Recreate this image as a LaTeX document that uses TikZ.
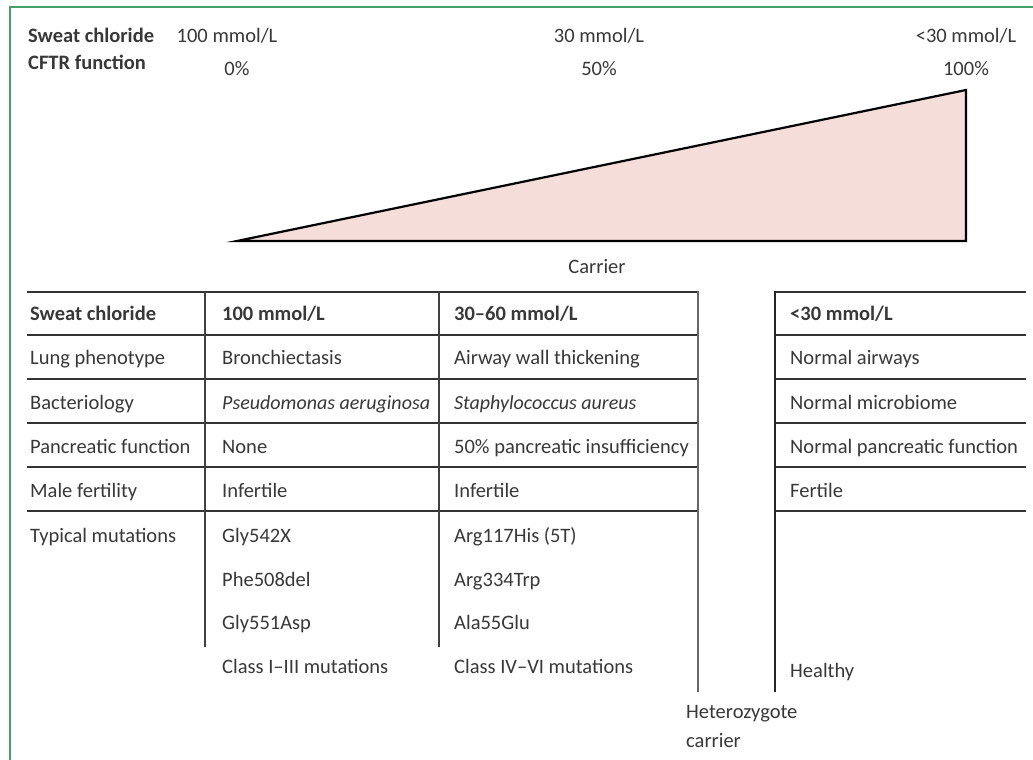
\documentclass[tikz,border=0pt]{standalone}
\usepackage{fontspec}
\setmainfont{Carlito}
\begin{document}
\begin{tikzpicture}[x=1pt,y=-1pt,
  txt/.style={anchor=base west,inner sep=0pt,text=black!78,font=\fontsize{20.5}{24}\selectfont},
  ctxt/.style={anchor=base,inner sep=0pt,text=black!78,font=\fontsize{20.5}{24}\selectfont},
  hd/.style={txt,font=\fontsize{20.5}{24}\selectfont\bfseries},
  it/.style={txt,font=\fontsize{20}{24}\selectfont\itshape},
  rule/.style={draw=black!80,line width=2.5pt},
  vrule/.style={draw=black!75,line width=2.5pt}]
\useasboundingbox (0,0) rectangle (1033,760);
\fill[white] (0,0) rectangle (1033,760);
% green frame
\draw[draw={rgb,255:red,70;green,158;blue,104},line width=2.2pt] (10,760) -- (10,7) -- (1033,7);
% top scale
\node[hd] (sc) at (28,43) {Sweat chloride};
\node[hd] (cf) at (28,70) {CFTR function};
\node[ctxt] (s100) at (227,43) {100 mmol/L};
\node[ctxt] (p0) at (237,75) {0\%};
\node[ctxt] (s30) at (599,43) {30 mmol/L};
\node[ctxt] (p50) at (599,75) {50\%};
\node[ctxt] (slt) at (966,43) {<30 mmol/L};
\node[ctxt] (p100) at (966,75) {100\%};
% triangle
\coordinate (tA) at (237,241);
\coordinate (tB) at (966,90);
\coordinate (tC) at (966,241);
\filldraw[fill={rgb,255:red,245;green,221;blue,217},draw=black,line width=2.2pt,line join=miter] (tA) -- (tB) -- (tC) -- cycle;
\node[ctxt] (carrier) at (597,273) {Carrier};
% table rules
\foreach \yy in {292,335,379,423,467,511}{
  \draw[rule] (27,\yy) -- (698,\yy);
  \draw[rule] (775,\yy) -- (1026,\yy);
}
\draw[vrule] (205,291) -- (205,647);
\draw[vrule] (439,291) -- (439,647);
\draw[vrule,draw=black!60] (698,291) -- (698,692);
\draw[vrule,draw=black!85] (775,291) -- (775,692);
% column 1
\node[hd] (h1) at (30,320) {Sweat chloride};
\node[txt] (r1) at (30,364) {Lung phenotype};
\node[txt] (r2) at (30,409) {Bacteriology};
\node[txt] (r3) at (30,453) {Pancreatic function};
\node[txt] (r4) at (30,497) {Male fertility};
\node[txt] (r5) at (30,542) {Typical mutations};
% column 2
\node[hd] (h2) at (222,320) {100 mmol/L};
\node[txt] (a1) at (222,364) {Bronchiectasis};
\node[it] (a2) at (222,409) {Pseudomonas aeruginosa};
\node[txt] (a3) at (222,453) {None};
\node[txt] (a4) at (222,497) {Infertile};
\node[txt] (a5) at (222,542) {Gly542X};
\node[txt] (a6) at (222,586) {Phe508del};
\node[txt] (a7) at (222,629) {Gly551Asp};
\node[txt] (a8) at (222,673) {Class I–III mutations};
% column 3
\node[hd] (h3) at (454,320) {30–60 mmol/L};
\node[txt] (b1) at (454,364) {Airway wall thickening};
\node[it] (b2) at (454,409) {Staphylococcus aureus};
\node[txt] (b3) at (454,453) {50\% pancreatic insufficiency};
\node[txt] (b4) at (454,497) {Infertile};
\node[txt] (b5) at (454,542) {Arg117His (5T)};
\node[txt] (b6) at (454,586) {Arg334Trp};
\node[txt] (b7) at (454,629) {Ala55Glu};
\node[txt] (b8) at (454,673) {Class IV–VI mutations};
% column 4
\node[hd] (h4) at (790,320) {<30 mmol/L};
\node[txt] (c1) at (790,364) {Normal airways};
\node[txt] (c2) at (790,409) {Normal microbiome};
\node[txt] (c3) at (790,453) {Normal pancreatic function};
\node[txt] (c4) at (790,497) {Fertile};
\node[txt] (c5) at (790,677) {Healthy};
% heterozygote
\node[txt] (het1) at (686,718) {Heterozygote};
\node[txt] (het2) at (686,747) {carrier};
\end{tikzpicture}
\end{document}
